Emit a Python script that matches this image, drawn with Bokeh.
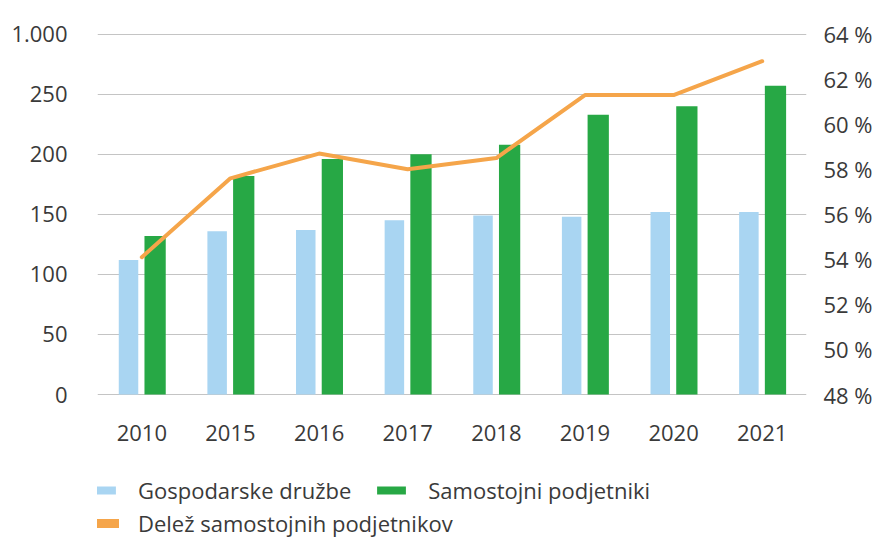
from bokeh.plotting import figure
from bokeh.models import (ColumnDataSource, LinearAxis, Range1d, FixedTicker,
                          Legend, LegendItem, FactorRange)
from bokeh.transform import dodge
from bokeh.embed import file_html
from bokeh.resources import INLINE

years = ["2010", "2015", "2016", "2017", "2018", "2019", "2020", "2021"]
druzbe = [112, 136, 137, 145, 149, 148, 152, 152]
podjetniki = [132, 182, 196, 200, 208, 233, 240, 257]
delez = [54.1, 57.6, 58.7, 58.0, 58.5, 61.3, 61.3, 62.8]

left_ticks = [0, 50, 100, 150, 200, 250, 300]
left_labels = {300: "1.000"}
right_ticks = [48, 50, 52, 54, 56, 58, 60, 62, 64]

FONT = "Open Sans"
TXT = "#3a3a3a"
BLUE = "#a9d5f2"
GREEN = "#27a845"
ORANGE = "#f5a54a"

W, H = 883, 539
TOP, LEFT, RIGHT = 33, 97, 77
ZERO_PX = 394                  # pixel row of the zero line inside the figure
Y_END = 300.6
px_per_unit = (ZERO_PX - TOP) / Y_END
y_start = -(H - ZERO_PX) / px_per_unit
pct_per_unit = (right_ticks[-1] - right_ticks[0]) / left_ticks[-1]

src = ColumnDataSource(dict(years=years, druzbe=druzbe, podjetniki=podjetniki, delez=delez))

p = figure(x_range=FactorRange(*years, range_padding=0.0), y_range=Range1d(y_start, Y_END),
           width=W, height=H, output_backend="svg", toolbar_location=None,
           min_border_left=LEFT, min_border_right=RIGHT, min_border_top=TOP,
           min_border_bottom=0)
p.extra_y_ranges = {"pct": Range1d(right_ticks[0] + y_start * pct_per_unit,
                                   right_ticks[0] + Y_END * pct_per_unit)}

b1 = p.vbar(x=dodge("years", -0.15, range=p.x_range), top="druzbe", width=0.22,
            source=src, color=BLUE, line_color=None)
b2 = p.vbar(x=dodge("years", 0.15, range=p.x_range), top="podjetniki", width=0.24,
            source=src, color=GREEN, line_color=None)
ln = p.line(x="years", y="delez", source=src, y_range_name="pct",
            line_color=ORANGE, line_width=4, line_join="round", line_cap="round")
# thicker twin used only for the legend swatch
ln_leg = p.line(x="years", y="delez", source=src, y_range_name="pct",
                line_color=ORANGE, line_width=9, line_cap="round", visible=False)

p.outline_line_color = None
p.xgrid.grid_line_color = None
p.ygrid.grid_line_color = "#c4c4c4"
p.ygrid.grid_line_width = 1
p.yaxis.ticker = FixedTicker(ticks=left_ticks)
p.yaxis.major_label_overrides = left_labels

ra = LinearAxis(y_range_name="pct", ticker=FixedTicker(ticks=right_ticks),
                major_label_overrides={t: f"{t} %" for t in right_ticks})
p.add_layout(ra, "right")

for ax in [p.yaxis[0], p.xaxis[0], ra]:
    ax.axis_line_color = None
    ax.major_tick_line_color = None
    ax.minor_tick_line_color = None
    ax.major_tick_out = 0
    ax.major_tick_in = 0
    ax.minor_tick_out = 0
    ax.minor_tick_in = 0
    ax.major_label_text_font = FONT
    ax.major_label_text_font_size = "22px"
    ax.major_label_text_color = TXT

p.xaxis.fixed_location = 0
p.yaxis.major_label_standoff = 30
p.xaxis.major_label_standoff = 30
ra.major_label_standoff = 17


def make_legend(items, spacing, loc):
    lg = Legend(items=items, orientation="horizontal", location=loc)
    lg.label_text_font = FONT
    lg.label_text_font_size = "22px"
    lg.label_text_color = TXT
    lg.border_line_color = None
    lg.background_fill_alpha = 0
    lg.inactive_fill_alpha = 0
    lg.glyph_width = 36
    lg.glyph_height = 10
    lg.spacing = spacing
    lg.label_standoff = 19
    lg.padding = 0
    lg.margin = 0
    return lg


lg1 = make_legend([
    LegendItem(label="Gospodarske družbe", renderers=[b1]),
    LegendItem(label="Samostojni podjetniki", renderers=[b2]),
], 22, (-14, 34))
lg2 = make_legend([
    LegendItem(label="Delež samostojnih podjetnikov", renderers=[ln_leg]),
], 0, (-14, 1))
p.add_layout(lg1)
p.add_layout(lg2)

open("out.html", "w").write(file_html(p, INLINE))
